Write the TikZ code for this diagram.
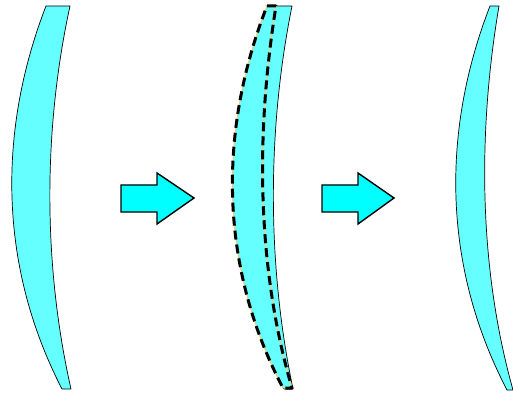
\documentclass[tikz,border=0pt]{standalone}
\begin{document}
\begin{tikzpicture}[x=1pt,y=-1pt,
  lensfill/.style={fill={rgb,255:red,102;green,255;blue,255}, draw=black, line width=0.7pt, line join=round},
  arrowshape/.style={fill={rgb,255:red,0;green,255;blue,255}, draw=black, line width=1.4pt, line join=miter},
  dashedoutline/.style={draw=black, line width=3pt, dash pattern=on 9pt off 5pt, line join=round},
  underline/.style={draw={rgb,255:red,255;green,200;blue,100}, line width=0.9pt}]
\useasboundingbox (0,0) rectangle (513,395);
% left lens
\path[lensfill] (46,6) -- (70,6) .. controls (43,130) and (43,265) .. (71,389) -- (62,389)
  .. controls (-2,265) and (-2,130) .. cycle;
% middle lens (solid)
\path[lensfill] (268,6) -- (292,6) .. controls (267,130) and (267,265) .. (293,389) -- (284,389)
  .. controls (220,265) and (220,130) .. cycle;
% middle dashed shape
\path[fill={rgb,255:red,102;green,255;blue,255}] (267,6) -- (276,6) .. controls (256,130) and (256,265) .. (292,388) -- (283,388)
  .. controls (218.5,265) and (218.5,130) .. cycle;
\path[underline] (267,6) -- (276,6) .. controls (256,130) and (256,265) .. (292,388) -- (283,388)
  .. controls (218.5,265) and (218.5,130) .. cycle;
\path[dashedoutline] (267,6) -- (276,6) .. controls (256,130) and (256,265) .. (292,388) -- (283,388)
  .. controls (218.5,265) and (218.5,130) .. cycle;
% right lens
\path[lensfill] (490,6) -- (499,6) .. controls (478,130) and (478,265) .. (513,390) -- (507,390)
  .. controls (441.8,265) and (441.8,130) .. cycle;
% arrows
\path[arrowshape] (121,185) -- (157,185) -- (157,173) -- (194,198) -- (157,224) -- (157,212) -- (121,212) -- cycle;
\path[arrowshape] (322,185) -- (358,185) -- (358,173) -- (394,198) -- (358,224) -- (358,212) -- (322,212) -- cycle;
\end{tikzpicture}
\end{document}
